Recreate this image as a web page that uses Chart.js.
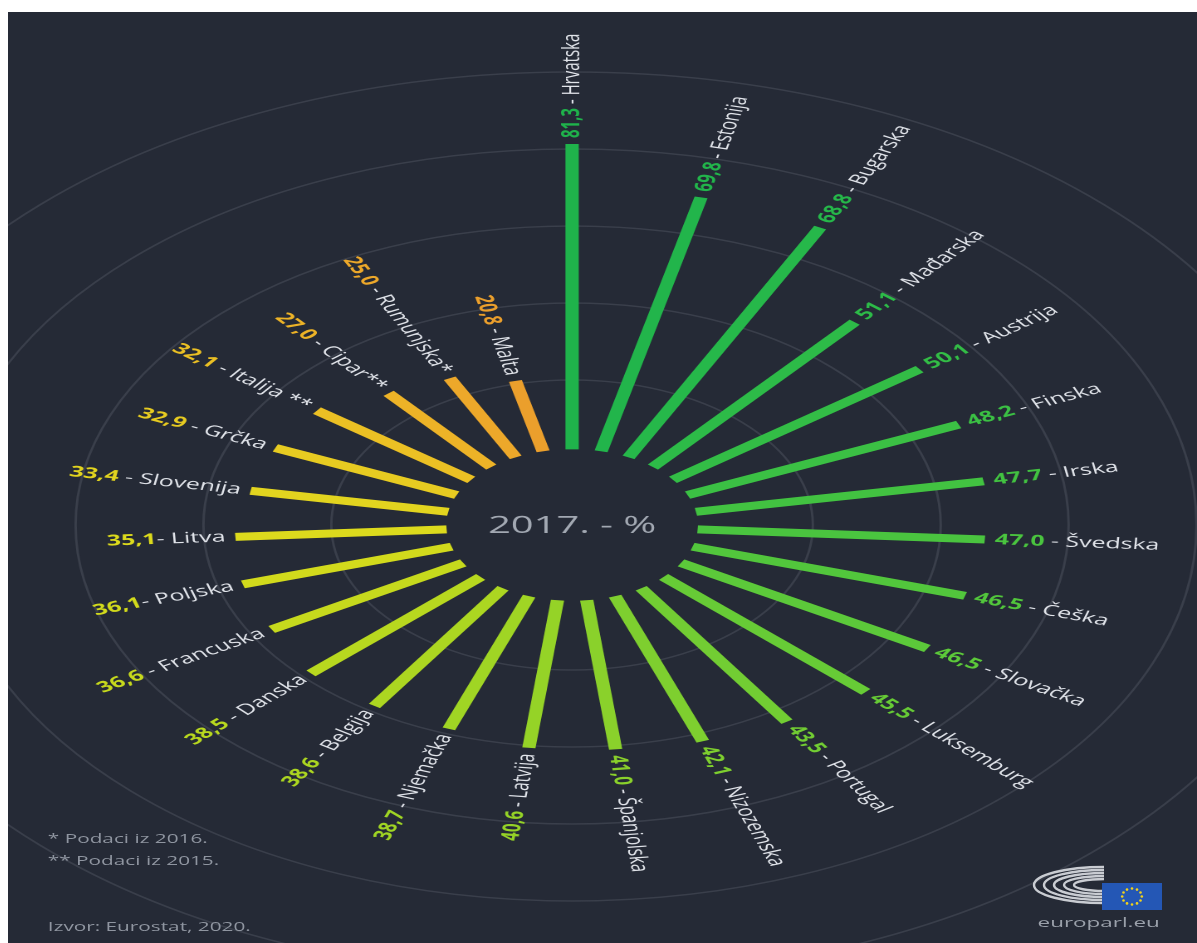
<!DOCTYPE html>
<html>
<head>
<meta charset="utf-8">
<script src="https://cdn.jsdelivr.net/npm/chart.js@4.4.1/dist/chart.umd.min.js"></script>
<style>
html,body{margin:0;padding:0;background:#ffffff;width:1197px;height:943px;overflow:hidden;}
#panel{position:absolute;left:8px;top:12px;width:1189px;height:931px;background:#252a36;overflow:hidden;}
#stretch{position:absolute;left:0;top:0;width:716px;height:931px;transform:scaleX(1.6606);transform-origin:0 0;}
#c{position:absolute;left:0;top:0;}
.note{position:absolute;font-family:'Open Sans',sans-serif;color:#8f95a0;font-size:12.5px;line-height:16px;white-space:nowrap;}
#logo{position:absolute;left:0;top:0;}
</style>
</head>
<body>
<div id="panel">
  <div id="stretch">
    <canvas id="c" width="716" height="931"></canvas>
    <div class="note" style="left:24px;top:819px">* Podaci iz 2016.</div>
    <div class="note" style="left:24px;top:841px">** Podaci iz 2015.</div>
    <div class="note" style="left:24px;top:907px">Izvor: Eurostat, 2020.</div>
    <div class="note" style="left:620px;top:902px;font-size:13.5px;color:#9aa0aa">europarl.eu</div>
  </div>
  <svg id="logo" width="1189" height="931" viewBox="0 0 1189 931">
    <g fill="none" stroke="#c9ccd2" stroke-width="2.4">
      <path d="M1096,855 A70,18 0 0 0 1096,891"/>
      <path d="M1096,858 A60,15 0 0 0 1096,888"/>
      <path d="M1096,861 A50,12 0 0 0 1096,885"/>
      <path d="M1096,864 A40,9 0 0 0 1096,882"/>
      <path d="M1096,867 A30,6 0 0 0 1096,879"/>
    </g>
    <rect x="1094" y="871" width="60" height="27" fill="#2457b5"/>
    <g fill="#f2d21b">
      <circle cx="1124" cy="876.5" r="1.3"/><circle cx="1129" cy="877.6" r="1.3"/>
      <circle cx="1132.5" cy="880.5" r="1.3"/><circle cx="1133.8" cy="884.5" r="1.3"/>
      <circle cx="1132.5" cy="888.5" r="1.3"/><circle cx="1129" cy="891.4" r="1.3"/>
      <circle cx="1124" cy="892.5" r="1.3"/><circle cx="1119" cy="891.4" r="1.3"/>
      <circle cx="1115.5" cy="888.5" r="1.3"/><circle cx="1114.2" cy="884.5" r="1.3"/>
      <circle cx="1115.5" cy="880.5" r="1.3"/><circle cx="1119" cy="877.6" r="1.3"/>
    </g>
  </svg>
</div>
<script>
// ---- data, clockwise from the top ----
const countries = ["Hrvatska","Estonija","Bugarska","Mađarska","Austrija","Finska","Irska","Švedska","Češka","Slovačka","Luksemburg","Portugal","Nizozemska","Španjolska","Latvija","Njemačka","Belgija","Danska","Francuska","Poljska","Litva","Slovenija","Grčka","Italija **","Cipar**","Rumunjska*","Malta"];
const values = [81.3,69.8,68.8,51.1,50.1,48.2,47.7,47.0,46.5,46.5,45.5,43.5,42.1,41.0,40.6,38.7,38.6,38.5,36.6,36.1,35.1,33.4,32.9,32.1,27.0,25.0,20.8];
const barColors = ["#1fb34b","#22b54b","#26b84a","#2dbb48","#33bd46","#3bc044","#42c241","#4ac43f","#52c63c","#5cc93a","#67cb36","#72cd33","#7ecf2f","#8ad12b","#95d327","#a0d524","#acd621","#b8d81f","#c6d91d","#d2da1c","#dcda1d","#e2d41f","#e7cb21","#ebc024","#edb327","#eda82a","#eb9f2c"];
const tightSeparator = ["Litva","Poljska"];
const ringTicks = [20,40,60,80,100];
const centerLabel = "2017. - %";

// ---- geometry of the radial layout ----
const N = countries.length;
const OFFSET = 17.66;     // radius (in value units) where value 0 lies
const BAR_START = 2;      // bars start slightly outside the zero ring
function polar(i, r){
  const a = i * 2 * Math.PI / N;
  return {x: r * Math.sin(a), y: r * Math.cos(a)};
}

const datasets = values.map((v, i) => ({
  label: countries[i],
  data: [polar(i, OFFSET + BAR_START), polar(i, OFFSET + v)],
  showLine: true,
  borderColor: barColors[i],
  backgroundColor: barColors[i],
  borderWidth: 8,
  borderCapStyle: 'butt',
  pointRadius: 0,
  pointHoverRadius: 0,
  tension: 0,
  fill: false
}));

const FONT = "'Open Sans', sans-serif";

const ringPlugin = {
  id: 'rings',
  beforeDatasetsDraw(chart){
    const {ctx} = chart; const xs = chart.scales.x, ys = chart.scales.y;
    const cx = xs.getPixelForValue(0), cy = ys.getPixelForValue(0);
    ctx.save();
    ctx.strokeStyle = '#3a3f4b';
    ctx.lineWidth = 1.5;
    ringTicks.forEach(t => {
      const R = OFFSET + t;
      const rx = xs.getPixelForValue(R) - cx;
      const ry = cy - ys.getPixelForValue(R);
      ctx.beginPath();
      ctx.ellipse(cx, cy, rx, ry, 0, 0, 2 * Math.PI);
      ctx.stroke();
    });
    ctx.restore();
  }
};

const labelPlugin = {
  id: 'labels',
  afterDatasetsDraw(chart){
    const {ctx} = chart; const xs = chart.scales.x, ys = chart.scales.y;
    const cx = xs.getPixelForValue(0), cy = ys.getPixelForValue(0);
    const GAP = 6;
    const bold = "700 15px " + FONT, reg = "400 15px " + FONT;
    values.forEach((v, i) => {
      const p = polar(i, OFFSET + v);
      const px = xs.getPixelForValue(p.x), py = ys.getPixelForValue(p.y);
      const ang = Math.atan2(py - cy, px - cx);
      const rightHalf = (i * 360 / N) < 180;
      const valTxt = v.toFixed(1).replace('.', ',');
      const sep = tightSeparator.includes(countries[i]) ? "- " : " - ";
      const nameTxt = sep + countries[i];
      ctx.save();
      ctx.font = bold; const wv = ctx.measureText(valTxt).width;
      ctx.font = reg; const wn = ctx.measureText(nameTxt).width;
      ctx.translate(px, py);
      let start;
      if (rightHalf){ ctx.rotate(ang); start = GAP; }
      else { ctx.rotate(ang + Math.PI); start = -GAP - wv - wn; }
      ctx.textBaseline = 'middle'; ctx.textAlign = 'left';
      ctx.font = bold; ctx.fillStyle = barColors[i];
      ctx.fillText(valTxt, start, 0);
      ctx.font = reg; ctx.fillStyle = '#e1e4ea';
      ctx.fillText(nameTxt, start + wv, 0);
      ctx.restore();
    });
    ctx.save();
    ctx.font = "400 24px " + FONT;
    ctx.fillStyle = '#a2a8b2';
    ctx.textAlign = 'center'; ctx.textBaseline = 'middle';
    ctx.fillText(centerLabel, cx, cy + 1);
    ctx.restore();
  }
};

new Chart(document.getElementById('c'), {
  type: 'scatter',
  data: { datasets },
  options: {
    responsive: false,
    devicePixelRatio: 2,
    animation: false,
    events: [],
    layout: { padding: 0 },
    plugins: { legend: { display: false }, tooltip: { enabled: false } },
    scales: {
      x: { type: 'linear', min: -88.23, max: 97.74, display: false },
      y: { type: 'linear', min: -108.57, max: 133.25, display: false }
    }
  },
  plugins: [ringPlugin, labelPlugin]
});
</script>
</body>
</html>
